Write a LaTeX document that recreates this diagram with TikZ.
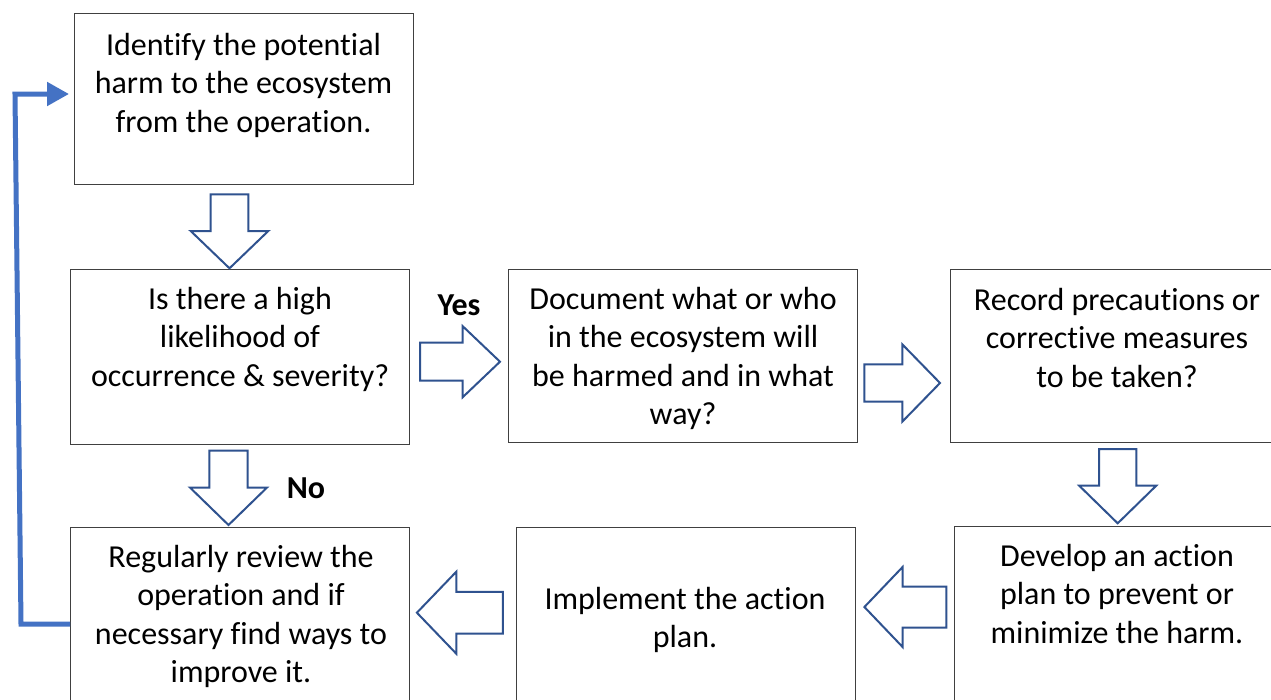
\documentclass[tikz,border=0pt]{standalone}
\usepackage{fontspec}
\setmainfont{Carlito}[Ligatures={NoCommon,NoContextual}]
\usetikzlibrary{arrows.meta}
\definecolor{boxline}{HTML}{404040}
\definecolor{arrowblue}{HTML}{2F528F}
\definecolor{loopblue}{HTML}{4472C4}
\tikzset{
  box/.style={draw=boxline, line width=1.3pt, fill=white, anchor=north west, inner sep=0pt},
  txt/.style={anchor=north, align=center, inner sep=0pt, font=\fontsize{32}{38.5}\selectfont},
  lbl/.style={anchor=base, inner sep=0pt, font=\fontsize{32}{38.5}\selectfont\bfseries},
  barrow/.style={draw=arrowblue, line width=2pt, fill=white, line join=miter},
  feedback/.style={draw=loopblue, line width=5pt, -{Triangle[length=22pt,width=23pt]}}
}
% tail centre, angle, length, shaft width, head width, head length
\newcommand\blockarrow[6]{%
  \draw[barrow, shift={(#1)}, rotate=#2]
    (0,{-#4/2}) -- ({#3-#6},{-#4/2}) -- ({#3-#6},{-#5/2}) -- (#3,0)
    -- ({#3-#6},{#5/2}) -- ({#3-#6},{#4/2}) -- (0,{#4/2}) -- cycle;}
\begin{document}
\begin{tikzpicture}[x=1pt, y=-1pt]
\useasboundingbox (0,0) rectangle (1271,699);
\clip (0,0) rectangle (1271,699);
\fill[white] (0,0) rectangle (1271,699);

% boxes
\node[box, minimum width=339pt, minimum height=171pt] (b1) at (74,13) {};
\node[box, minimum width=339pt, minimum height=175pt] (b2) at (70,269) {};
\node[box, minimum width=349pt, minimum height=173pt] (b3) at (508,269) {};
\node[box, minimum width=335pt, minimum height=173pt] (b4) at (950,269) {};
\node[box, minimum width=330pt, minimum height=180pt] (b5) at (954,526) {};
\node[box, minimum width=339pt, minimum height=180pt] (b6) at (516,527) {};
\node[box, minimum width=339pt, minimum height=180pt] (b7) at (70,527) {};

% texts (first baseline = y + 28)
\node[txt] (t1) at (243.5,27) {\rule{0pt}{28pt}Identify the potential\\harm to the ecosystem\\from the operation.};
\node[txt] (t2) at (240,281) {\rule{0pt}{28pt}Is there a high\\likelihood of\\occurrence \& severity?};
\node[txt] (t3) at (683,281) {\rule{0pt}{28pt}Document what or who\\in the ecosystem will\\be harmed and in what\\way?};
\node[txt] (t4) at (1117,282) {\rule{0pt}{28pt}Record precautions or\\corrective measures\\to be taken?};
\node[txt] (t5) at (1117,538) {\rule{0pt}{28pt}Develop an action\\plan to prevent or\\minimize the harm.};
\node[txt] (t6) at (685,581) {\rule{0pt}{28pt}Implement the action\\plan.};
\node[txt] (t7) at (241,539) {\rule{0pt}{28pt}Regularly review the\\operation and if\\necessary find ways to\\improve it.};

% labels
\node[lbl] (yes) at (459,315) {Yes};
\node[lbl] (no) at (306,498) {No};

% block arrows
\blockarrow{229.5,194.3}{-90}{74}{37.6}{77.6}{37.3}
\blockarrow{228.5,450.7}{-90}{74.3}{38.4}{76.7}{37.3}
\blockarrow{420,361.7}{0}{80}{38}{71}{37.3}
\blockarrow{864.3,383}{0}{75.7}{37.4}{77.3}{37.7}
\blockarrow{1117.7,449}{-90}{74.3}{37.3}{77}{37.6}
\blockarrow{946.4,607}{180}{82}{41}{80}{38.2}
\blockarrow{502.9,612.7}{180}{86}{41.8}{82}{39.4}

% feedback loop
\draw[feedback] (b7.west |- 0,624) -- (21,624) -- (15,94) -- ([xshift=-5pt]b1.west |- 0,94);
\end{tikzpicture}
\end{document}
